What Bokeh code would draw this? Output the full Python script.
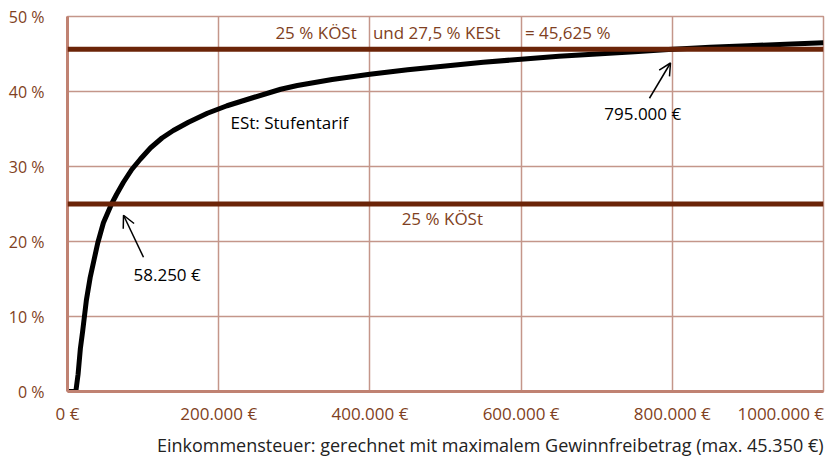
from bokeh.plotting import figure
from bokeh.models import Range1d, FixedTicker, Span, Label, Arrow, OpenHead, Title
from bokeh.embed import file_html
from bokeh.resources import INLINE

# profit in EUR and average tax rate in % (Einkommensteuer, Stufentarif)
income = [0, 11000, 14000, 17000, 20000, 25000, 30000, 35000, 40000, 47500,
          58250, 65000, 74000, 85000, 96500, 110000, 125000, 140000, 160000,
          185000, 211000, 246000, 282000, 304000, 350000, 400000, 450000,
          500000, 550000, 600000, 650000, 700000, 750000, 795000, 850000,
          900000, 950000, 1000000]
rate = [0, 0, 2.3, 5.7, 8.0, 12.2, 15.2, 17.5, 19.8, 22.5,
        25.0, 26.3, 27.9, 29.6, 31.0, 32.5, 33.8, 34.8, 35.9,
        37.1, 38.1, 39.2, 40.3, 40.8, 41.6, 42.3, 42.9,
        43.4, 43.9, 44.3, 44.7, 45.0, 45.3, 45.6, 45.9,
        46.1, 46.3, 46.5]

koest = 25.0
koest_kest = 45.625
break_low = 58250
break_high = 795000

x_ticks = [0, 200000, 400000, 600000, 800000, 1000000]
x_tick_labels = ["0 €", "200.000 €", "400.000 €", "600.000 €", "800.000 €", "1000.000 €"]
y_ticks = [0, 10, 20, 30, 40, 50]
y_tick_labels = ["0 %", "10 %", "20 %", "30 %", "40 %", "50 %"]

FONT = "Open Sans"
BROWN = "#7f3f22"
DARK = "#6b2408"
GRID = "#c4968a"
AXIS = "#c08272"

p = figure(width=828, height=461, output_backend="svg", toolbar_location=None,
           x_range=Range1d(0, 1000000), y_range=Range1d(0, 50),
           min_border_left=67, min_border_right=5, min_border_top=16,
           min_border_bottom=70)
p.outline_line_color = GRID
p.outline_line_width = 1.5
p.background_fill_color = "white"

for ax in (p.xaxis[0], p.yaxis[0]):
    ax.major_tick_line_color = None
    ax.minor_tick_line_color = None
    ax.axis_line_color = AXIS
    ax.axis_line_width = 3
    ax.major_label_text_font = FONT
    ax.major_label_text_color = BROWN
p.xaxis.major_label_text_font_size = "17px"
p.yaxis.major_label_text_font_size = "16px"

# last tick label is pushed left (as in the reference) with a trailing no-break space
overrides = {}
for t, l in zip(x_ticks, x_tick_labels):
    overrides[t] = l if t != x_ticks[-1] else l + "\u00a0"
p.xaxis.ticker = FixedTicker(ticks=x_ticks)
p.xaxis.major_label_overrides = overrides
p.xaxis.major_label_standoff = 4
p.yaxis.ticker = FixedTicker(ticks=y_ticks)
p.yaxis.major_label_overrides = {t: l for t, l in zip(y_ticks, y_tick_labels)}
p.yaxis.major_label_standoff = 17

p.xgrid.grid_line_color = GRID
p.ygrid.grid_line_color = GRID
p.xgrid.grid_line_width = 1.5
p.ygrid.grid_line_width = 1.5

p.add_layout(Span(location=koest_kest, dimension="width", line_color=DARK, line_width=5))
p.add_layout(Span(location=koest, dimension="width", line_color=DARK, line_width=5))

p.line(income, rate, line_color="black", line_width=5, line_join="round")

def lab(text, x, y, color="black", align="left", size="17px"):
    p.add_layout(Label(x=x, y=y, text=text, text_font=FONT, text_font_size=size,
                       text_color=color, text_align=align, text_baseline="middle"))

p.add_layout(Title(text="Einkommensteuer: gerechnet mit maximalem Gewinnfreibetrag (max. 45.350 €)",
                   align="right", text_font=FONT, text_font_size="18px",
                   text_font_style="normal", text_color="#222222", standoff=7), "below")

lab("25 % KÖSt", 275000, 47.9, color=BROWN)
lab("und 27,5 % KESt", 404000, 47.9, color=BROWN)
lab("= 45,625 %", 605000, 47.9, color=BROWN)
lab("25 % KÖSt", 442000, 23.1, color=BROWN)
lab("ESt: Stufentarif", 215600, 35.9)
lab("58.250 €", 87300, 15.6)
lab("795.000 €", 710000, 37.1)

p.add_layout(Arrow(end=OpenHead(size=12, line_width=1.5, line_color="black"),
                   x_start=100500, y_start=17.9, x_end=74100, y_end=23.5,
                   line_width=1.5, line_color="black"))
p.add_layout(Arrow(end=OpenHead(size=12, line_width=1.5, line_color="black"),
                   x_start=769800, y_start=39.1, x_end=797600, y_end=43.8,
                   line_width=1.5, line_color="black"))

open("out.html", "w").write(file_html(p, INLINE))
